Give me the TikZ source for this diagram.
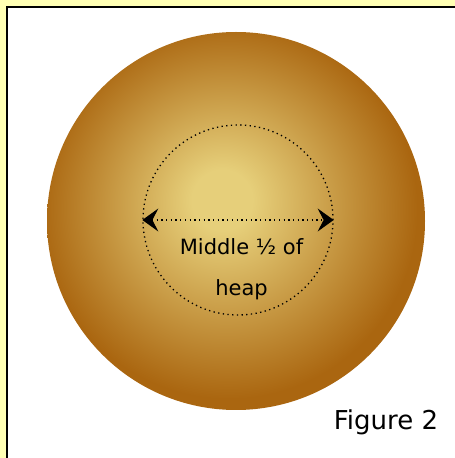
\documentclass[tikz,border=0pt]{standalone}
\usepackage{fontspec}
\setmainfont{DejaVu Sans}
\usetikzlibrary{arrows.meta}
\definecolor{bgyellow}{RGB}{255,255,180}
\definecolor{heapin}{RGB}{230,207,122}
\definecolor{heapout}{RGB}{170,102,16}
\pgfdeclareradialshading{heapshade}{\pgfpoint{-2bp}{3bp}}{color(0bp)=(heapin); color(4bp)=(heapin); color(25bp)=(heapout); color(50bp)=(heapout)}
\begin{document}
\begin{tikzpicture}[x=1pt,y=1pt,
  lbl/.style={font=\fontsize{21}{24}\selectfont, anchor=base, inner sep=0pt},
  figlbl/.style={font=\fontsize{26}{30}\selectfont, anchor=base, inner sep=0pt},
  dots/.style={line width=1.3pt, dash pattern=on 1.3pt off 3.4pt},
  bothtips/.style={{Stealth[length=16pt,width=23pt,inset=6pt]}-{Stealth[length=16pt,width=23pt,inset=6pt]}}]
\useasboundingbox (0,0) rectangle (455,458);
\fill[bgyellow] (0,0) rectangle (455,458);
\fill[white] (7,-5) rectangle (460,451);
\draw[line width=1.5pt] (7,-5) -- (7,451) -- (460,451);
\shade[shading=heapshade] (236,237) circle (189);
\node[circle, draw, dots, minimum size=190, inner sep=0pt] (inner) at (238,238) {};
\draw[dots, bothtips] (inner.west) -- (inner.east);
\node[lbl] (t1) at (241.5,203) {Middle ½ of};
\node[lbl] (t2) at (241.5,162) {heap};
\node[figlbl] (fig) at (386,28) {Figure 2};
\end{tikzpicture}
\end{document}
